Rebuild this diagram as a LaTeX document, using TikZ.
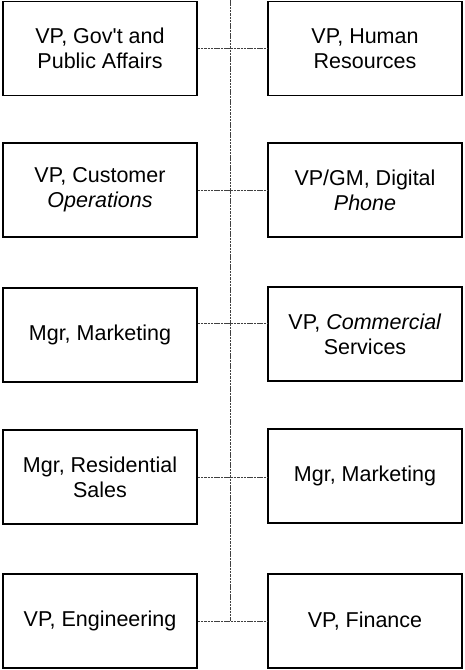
\documentclass[tikz,border=0pt]{standalone}
\usepackage{fontspec}
\setmainfont{Liberation Sans}
\begin{document}
\begin{tikzpicture}[x=1pt,y=-1pt,
  post/.style={draw=black,line width=1.3pt,minimum width=194pt,minimum height=94pt,
    align=center,font=\fontsize{21.5}{25}\selectfont},
  link/.style={draw=black!75,line width=0.6pt,dash pattern=on 2.5pt off 0.8pt}]
\useasboundingbox (0,0) rectangle (464,670);
\node [post] (l1) at (100,48.5) {VP, Gov\textquotesingle t and\\Public Affairs};
\node [post] (r1) at (365,48.5) {VP, Human\\Resources};
\node [post] (l2) at (100,190) {VP, Customer\\\textit{Operations}};
\node [post] (r2) at (365,190) {VP/GM, Digital\\\textit{Phone}};
\node [post] (l3) at (100,335) {Mgr, Marketing};
\node [post] (r3) at (365,334) {VP, \textit{Commercial}\\Services};
\node [post] (l4) at (100,477) {Mgr, Residential\\Sales};
\node [post] (r4) at (365,476) {Mgr, Marketing};
\node [post] (l5) at (100,621) {VP, Engineering};
\node [post] (r5) at (365,621) {VP, Finance};
\coordinate (spine) at (230,0);
\draw [link] (spine) -- (spine |- l5.east);
\draw [link] (l1) -- (r1);
\draw [link] (l2) -- (r2);
\draw [link] (l3.7) -- (r3.west |- l3.7);
\draw [link] (l4) -- (r4.west |- l4.east);
\draw [link] (l5) -- (r5);
\end{tikzpicture}
\end{document}
